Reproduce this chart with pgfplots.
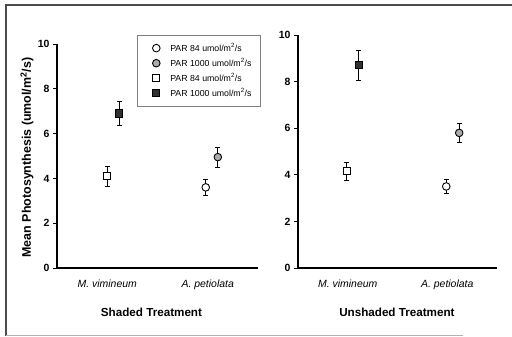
\documentclass[border=0pt]{standalone}
\usepackage{pgfplots}
\pgfplotsset{compat=1.18}
\usepackage{fontspec}
\setmainfont{Liberation Sans}
\definecolor{midgray}{HTML}{ABABAB}
\definecolor{darkfill}{HTML}{303030}
\pgfplotsset{
  panel/.style={
    scale only axis, xmin=0, xmax=2, ymin=0, ymax=10,
    axis x line=bottom, axis y line=left,
    axis line style={-, line width=1.3pt},
    ytick={0,2,...,10}, xtick={0.5,1.5},
    xticklabels={M. vimineum, A. petiolata},
    tick align=outside, major tick length=4bp,
    ytick style={line width=1pt, black},
    xtick style={draw=none},
    /pgf/number format/assume math mode=true,
    yticklabel style={font=\bfseries\fontsize{10.5}{11}\selectfont},
    xticklabel style={font=\itshape\fontsize{10.5}{11}\selectfont, yshift=-4bp},
    xlabel style={font=\bfseries\fontsize{11.7}{12}\selectfont},
    ylabel style={font=\bfseries\fontsize{12.5}{13}\selectfont},
    clip=false,
  },
  eb/.style={
    error bars/y dir=both, error bars/y explicit,
    error bars/error bar style={line width=0.9pt, black},
    error bars/error mark options={rotate=90, mark size=2.5bp, line width=0.9pt, black},
  },
  ocirc/.style={eb, only marks, mark=*, mark size=3.8bp, mark options={fill=white, draw=black, line width=0.9pt}},
  gcirc/.style={eb, only marks, mark=*, mark size=3.8bp, mark options={fill=midgray, draw=black, line width=0.9pt}},
  osq/.style={eb, only marks, mark=square*, mark size=3.6bp, mark options={fill=white, draw=black, line width=0.9pt}},
  fsq/.style={eb, only marks, mark=square*, mark size=3.6bp, mark options={fill=darkfill, draw=black, line width=0.9pt}},
}
\begin{document}
\begin{tikzpicture}[x=1bp,y=1bp]
\path[use as bounding box] (0,0) rectangle (512,336);
\draw[line width=1.3bp, black!70] (6,0) -- (6,331) -- (512,331);
\draw[line width=1bp, black!30] (6,1) -- (463,1);
\begin{axis}[panel, at={(57bp,68bp)}, anchor=south west, width=201bp, height=224bp,
  xlabel={Shaded Treatment},
  xlabel style={at={(axis description cs:0.47,-0.196)}, anchor=center},
  ylabel={Mean Photosynthesis (umol/m\textsuperscript{2}/s)},
  ylabel style={at={(axis description cs:-0.149,0.493)}, anchor=center},
  legend style={at={(axis description cs:0.398,1.040)}, anchor=north west,
    draw=black!50, line width=0.6pt, font=\fontsize{8.8}{9}\selectfont,
    row sep=1.5bp, inner xsep=7bp, inner ysep=6bp},
  legend image code/.code={\path[draw=none] (0bp,0bp) -- (24bp,0bp); \path[#1, draw=none] plot[only marks] coordinates {(12bp,0bp)};},
  legend cell align=left]
\addplot[ocirc] coordinates {(1.48,3.6) +- (0,0.37)};
\addlegendentry{PAR 84 umol/m\textsuperscript{2}/s}
\addplot[gcirc] coordinates {(1.60,4.95) +- (0,0.45)};
\addlegendentry{PAR 1000 umol/m\textsuperscript{2}/s}
\addplot[osq] coordinates {(0.50,4.1) +- (0,0.45)};
\addlegendentry{PAR 84 umol/m\textsuperscript{2}/s}
\addplot[fsq] coordinates {(0.62,6.9) +- (0,0.55)};
\addlegendentry{PAR 1000 umol/m\textsuperscript{2}/s}
\end{axis}
\begin{axis}[panel, at={(298bp,68bp)}, anchor=south west, width=199bp, height=233bp,
  xlabel={Unshaded Treatment},
  xlabel style={at={(axis description cs:0.497,-0.189)}, anchor=center}]
\addplot[ocirc] coordinates {(1.49,3.5) +- (0,0.32)};
\addplot[gcirc] coordinates {(1.62,5.8) +- (0,0.4)};
\addplot[osq] coordinates {(0.49,4.15) +- (0,0.4)};
\addplot[fsq] coordinates {(0.61,8.7) +- (0,0.65)};
\end{axis}
\end{tikzpicture}
\end{document}
